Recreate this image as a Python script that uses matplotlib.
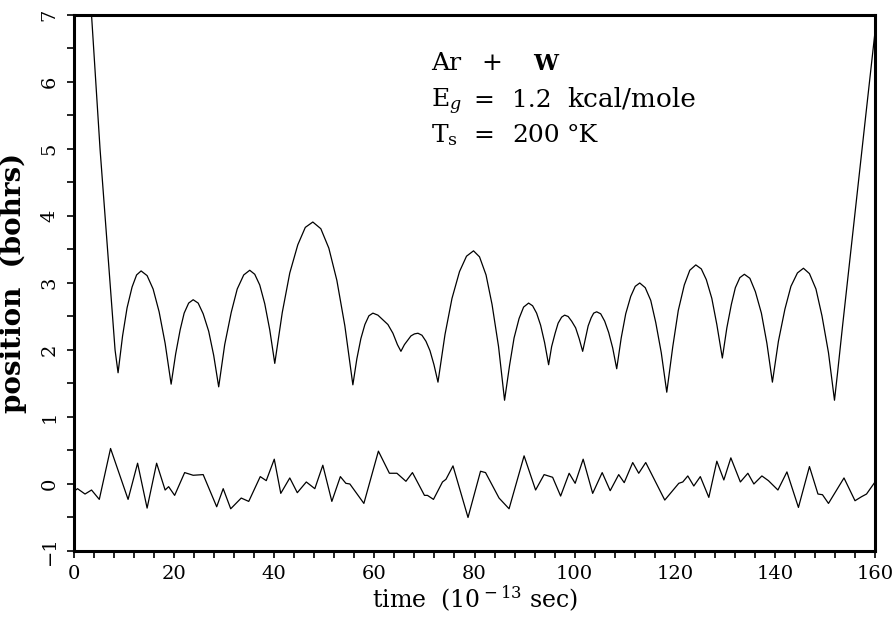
import matplotlib
matplotlib.use("Agg")
import matplotlib.pyplot as plt
from matplotlib.ticker import MultipleLocator

# gas atom trajectory (upper curve)
upper_t = [2.5, 3.5, 5.2, 7.2, 8.2, 8.8,
           9.7, 10.6, 11.6, 12.5, 13.4, 14.6, 15.8, 17.0, 18.2, 19.4,
           20.3, 21.2, 22.0, 22.9, 23.8, 24.8, 25.8, 26.9, 27.9, 28.9,
           30.1, 31.4, 32.6, 33.9, 35.1, 36.1, 37.1, 38.1, 39.1, 40.1,
           41.6, 43.1, 44.7, 46.2, 47.7, 49.3, 50.9, 52.5, 54.1, 55.7,
           56.5, 57.3, 58.1, 58.9, 59.7, 60.7, 61.7, 62.7, 63.7, 64.6, 65.3,
           66.0, 66.7, 67.3, 68.0, 68.7, 69.5, 70.3, 71.1, 71.9, 72.7,
           74.1, 75.5, 77.0, 78.4, 79.8, 81.0, 82.3, 83.5, 84.8, 86.0,
           87.0, 87.9, 88.9, 89.8, 90.8, 91.6, 92.4, 93.2, 94.0, 94.8,
           95.4, 96.1, 96.7, 97.4, 98.0, 98.7, 99.4, 100.2, 100.9, 101.6,
           102.2, 102.7, 103.3, 103.8, 104.4, 105.2, 106.0, 106.8, 107.6, 108.4,
           109.3, 110.2, 111.2, 112.1, 113.0, 114.1, 115.2, 116.2, 117.3, 118.4,
           119.6, 120.7, 121.9, 123.0, 124.2, 125.3, 126.3, 127.4, 128.4, 129.5,
           130.4, 131.3, 132.1, 133.0, 133.9, 135.0, 136.1, 137.3, 138.4, 139.5,
           140.7, 142.0, 143.2, 144.5, 145.7, 146.9, 148.2, 149.4, 150.7, 151.9,
           152.5, 153.5, 156.0, 158.0, 160.0]
upper_y = [8.0, 7.0, 5.0, 3.0, 2.0, 1.66,
           2.21, 2.63, 2.94, 3.12, 3.18, 3.11, 2.91, 2.57, 2.10, 1.49,
           1.94, 2.30, 2.55, 2.70, 2.75, 2.70, 2.54, 2.28, 1.92, 1.45,
           2.08, 2.56, 2.91, 3.12, 3.19, 3.13, 2.97, 2.69, 2.30, 1.80,
           2.56, 3.15, 3.57, 3.83, 3.91, 3.81, 3.52, 3.04, 2.36, 1.48,
           1.87, 2.17, 2.38, 2.51, 2.55, 2.52, 2.45, 2.38, 2.25, 2.08, 1.98,
           2.08, 2.15, 2.21, 2.24, 2.25, 2.22, 2.13, 1.99, 1.78, 1.52,
           2.23, 2.77, 3.17, 3.40, 3.48, 3.39, 3.12, 2.68, 2.05, 1.25,
           1.77, 2.18, 2.47, 2.64, 2.70, 2.66, 2.55, 2.37, 2.11, 1.78,
           2.05, 2.25, 2.40, 2.49, 2.52, 2.50, 2.43, 2.33, 2.17, 1.98,
           2.19, 2.36, 2.48, 2.55, 2.57, 2.54, 2.43, 2.26, 2.03, 1.72,
           2.18, 2.54, 2.80, 2.95, 3.00, 2.93, 2.74, 2.41, 1.96, 1.37,
           2.05, 2.59, 2.97, 3.19, 3.27, 3.21, 3.05, 2.77, 2.38, 1.88,
           2.33, 2.68, 2.93, 3.08, 3.13, 3.07, 2.87, 2.55, 2.10, 1.52,
           2.13, 2.61, 2.95, 3.15, 3.22, 3.14, 2.91, 2.51, 1.96, 1.25,
           1.65, 2.35, 4.05, 5.40, 6.75]

# surface atom displacement (lower curve)
lower_t = [0.0, 0.7, 2.2, 3.5, 5.05, 7.3, 10.8, 12.7, 14.6, 16.5, 18.2, 18.9,
           20.1, 22.1, 23.8, 25.8, 28.5, 29.8, 31.3, 33.4, 34.9, 37.2, 38.4,
           40.0, 41.3, 43.1, 44.6, 46.4, 48.1, 49.7, 51.5, 53.2, 54.3, 55.1,
           57.9, 60.8, 63.0, 64.5, 66.3, 67.6, 70.0, 70.6, 71.8, 73.6, 74.3,
           75.7, 78.7, 81.2, 82.2, 84.9, 86.9, 89.9, 92.2, 93.9, 95.6, 97.2,
           98.9, 100.1, 101.7, 103.6, 105.5, 107.1, 108.8, 109.9, 111.6, 112.8,
           114.2, 118.0, 120.8, 121.6, 122.6, 123.8, 125.1, 126.8, 128.4, 129.8,
           131.2, 133.1, 134.6, 135.8, 137.4, 138.7, 140.6, 142.4, 144.7, 146.9,
           148.6, 149.5, 150.7, 153.8, 156.0, 157.3, 158.3, 160.0]
lower_y = [-0.11, -0.07, -0.15, -0.09, -0.23, 0.53, -0.23, 0.31, -0.36, 0.31, -0.09, -0.04,
           -0.17, 0.17, 0.13, 0.14, -0.34, -0.07, -0.37, -0.21, -0.26, 0.11, 0.05,
           0.37, -0.14, 0.09, -0.13, 0.03, -0.07, 0.28, -0.26, 0.11, 0.01, 0.0,
           -0.29, 0.49, 0.16, 0.16, 0.04, 0.17, -0.17, -0.17, -0.23, 0.03, 0.07,
           0.27, -0.50, 0.19, 0.17, -0.21, -0.37, 0.42, -0.09, 0.14, 0.10, -0.18,
           0.16, 0.01, 0.37, -0.14, 0.17, -0.10, 0.14, 0.02, 0.32, 0.16,
           0.32, -0.24, 0.01, 0.03, 0.12, -0.03, 0.11, -0.20, 0.34, 0.06,
           0.39, 0.03, 0.16, 0.0, 0.12, 0.05, -0.09, 0.18, -0.35, 0.26,
           -0.15, -0.16, -0.29, 0.09, -0.25, -0.19, -0.15, 0.03]

plt.rcParams["font.family"] = "DejaVu Serif"
plt.rcParams["mathtext.fontset"] = "dejavuserif"

fig = plt.figure(figsize=(8.96, 6.17), dpi=100)
ax = fig.add_axes([0.0826, 0.107, 0.894, 0.8687])

ax.plot(upper_t, upper_y, color="black", linewidth=0.9, solid_joinstyle="round")
ax.plot(lower_t, lower_y, color="black", linewidth=0.9, solid_joinstyle="round")

ax.set_xlim(0, 160)
ax.set_ylim(-1, 7)

ax.xaxis.set_major_locator(MultipleLocator(20))
ax.xaxis.set_minor_locator(MultipleLocator(4))
ax.yaxis.set_major_locator(MultipleLocator(1))
ax.yaxis.set_minor_locator(MultipleLocator(0.5))

for s in ax.spines.values():
    s.set_linewidth(2.2)

ax.tick_params(which="both", direction="out", length=5, width=1.2)
ax.tick_params(axis="x", labelsize=14, pad=5)
ax.tick_params(axis="y", labelsize=14, pad=6, labelrotation=90)
for lab in ax.get_yticklabels():
    lab.set_verticalalignment("center")

ax.set_xlabel(r"time  (10$^{\rm -13}$ sec)", fontsize=17, labelpad=1)
ax.set_ylabel("position  (bohrs)", fontsize=20, fontweight="bold", labelpad=10)

# annotation, placed token by token to follow the wide original type
tr = ax.transAxes
fs = 18
ax.text(0.4457, 0.897, "Ar", transform=tr, fontsize=fs)
ax.text(0.5081, 0.897, "+", transform=tr, fontsize=fs)
ax.text(0.5730, 0.897, "W", transform=tr, fontsize=16, fontweight="bold")
ax.text(0.4457, 0.829, r"E$_g$", transform=tr, fontsize=fs)
ax.text(0.4980, 0.829, "=", transform=tr, fontsize=fs)
ax.text(0.5468, 0.829, "1.2", transform=tr, fontsize=fs)
ax.text(0.6155, 0.829, "kcal/mole", transform=tr, fontsize=19)
ax.text(0.4457, 0.763, r"T$_{\rm s}$", transform=tr, fontsize=fs)
ax.text(0.4980, 0.763, "=", transform=tr, fontsize=fs)
ax.text(0.5468, 0.763, "200", transform=tr, fontsize=fs)
ax.text(0.6155, 0.763, "°K", transform=tr, fontsize=fs)

fig.savefig("out.png", dpi=100)
